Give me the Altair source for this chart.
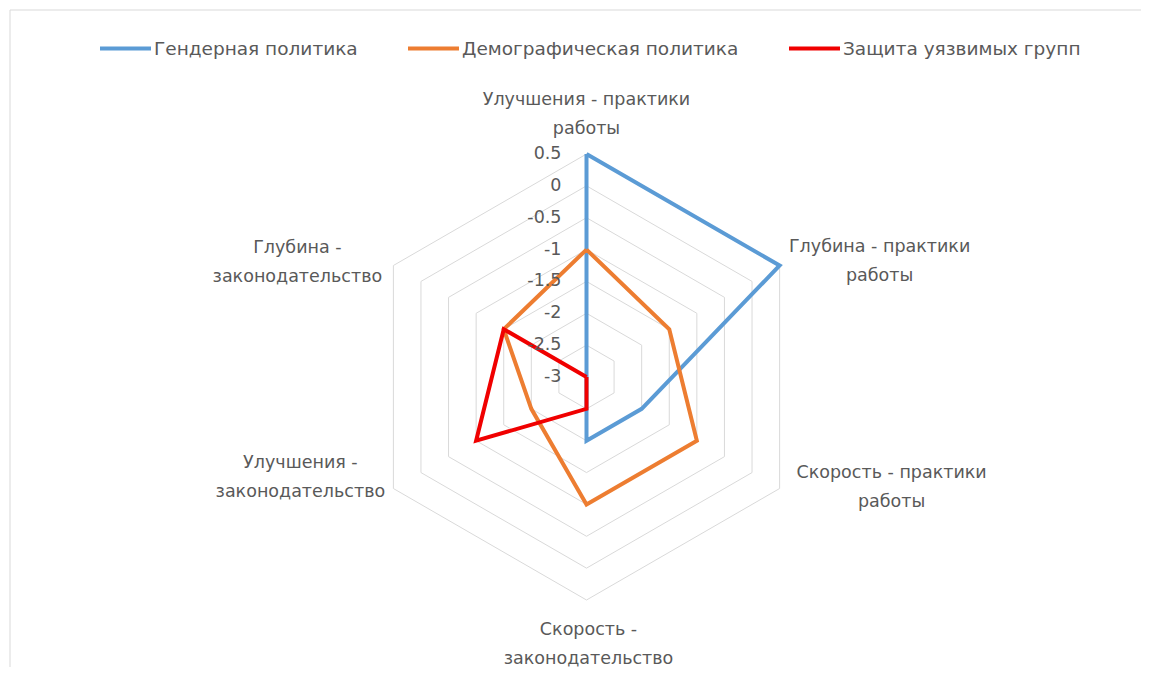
import altair as alt
import pandas as pd

# ---------------- data ----------------
categories = [
    "Улучшения - практики работы",
    "Глубина - практики работы",
    "Скорость - практики работы",
    "Скорость - законодательство",
    "Улучшения - законодательство",
    "Глубина - законодательство",
]
category_labels = [
    "Улучшения - практики\nработы",
    "Глубина - практики\nработы",
    "Скорость - практики\nработы",
    "Скорость -\nзаконодательство",
    "Улучшения -\nзаконодательство",
    "Глубина -\nзаконодательство",
]
series_names = ["Гендерная политика", "Демографическая политика", "Защита уязвимых групп"]
gender = [0.5, 0.5, -2.0, -2.0, -3.0, -3.0]
demographic = [-1.0, -1.5, -1.0, -1.0, -2.0, -1.5]
vulnerable = [-3.0, -3.0, -3.0, -2.5, -1.0, -1.5]
tick_values = [0.5, 0.0, -0.5, -1.0, -1.5, -2.0, -2.5, -3.0]
tick_labels = ["0.5", "0", "-0.5", "-1", "-1.5", "-2", "-2.5", "-3"]
colors = ["#5B9BD5", "#ED7D31", "#F00000"]
widths = [4, 4, 5]

# ---------------- layout ----------------
W, H = 1133, 659
RMIN = -3.0                    # value at the centre
RMAX = 0.5                     # value at the outer ring
PX = 223 / (RMAX - RMIN)       # pixels per unit
CX, CY = 578.5, 369.0          # centre inside plot area
XMIN, XMAX = -CX / PX, (W - CX) / PX
YMIN, YMAX = -(H - CY) / PX, CY / PX
FONT = "DejaVu Sans"
TXT = "#595959"
GRID = "#D9D9D9"
LABEL_SIZE = 17.5
# per-category label offsets (dx, dy) in pixels from the outer vertex
LABEL_OFFSETS = [(0, -54), (100, -19), (112, -16), (2, 30), (-93, -26), (-96, -18)]

n = len(categories)

rows = []
for name, vals in zip(series_names, [gender, demographic, vulnerable]):
    for i in range(n + 1):
        rows.append({"series": name, "idx": i % n, "ord": i, "value": vals[i % n]})
lines_df = pd.DataFrame(rows)

ring_rows = []
for lv in tick_values:
    if lv == RMIN:
        continue
    for i in range(n + 1):
        ring_rows.append({"level": lv, "idx": i % n, "ord": i, "value": lv})
rings_df = pd.DataFrame(ring_rows)

cat_df = pd.DataFrame({"idx": list(range(n)), "label": category_labels})
tick_df = pd.DataFrame({"value": tick_values, "label": tick_labels})

xs = alt.Scale(domain=[XMIN, XMAX], nice=False, zero=False)
ys = alt.Scale(domain=[YMIN, YMAX], nice=False, zero=False)


def polar(chart):
    return chart.transform_calculate(
        ang=f"PI/2 - datum.idx*2*PI/{n}",
        r=f"datum.value - ({RMIN})",
    ).transform_calculate(
        px="datum.r*cos(datum.ang)",
        py="datum.r*sin(datum.ang)",
    )


rings = polar(alt.Chart(rings_df)).mark_line(color=GRID, strokeWidth=1).encode(
    x=alt.X("px:Q", scale=xs, axis=None),
    y=alt.Y("py:Q", scale=ys, axis=None),
    detail="level:N",
    order="ord:Q",
)

series_lines = polar(alt.Chart(lines_df)).mark_line(strokeJoin="miter").encode(
    x=alt.X("px:Q", scale=xs, axis=None),
    y=alt.Y("py:Q", scale=ys, axis=None),
    color=alt.Color(
        "series:N",
        scale=alt.Scale(domain=series_names, range=colors),
        sort=series_names,
        legend=alt.Legend(
            title=None,
            orient="none",
            legendX=90,
            legendY=13,
            direction="horizontal",
            symbolType="stroke",
            symbolSize=2600,
            symbolStrokeWidth=4,
            labelFont=FONT,
            labelFontSize=18.5,
            labelColor=TXT,
            labelLimit=600,
            labelOffset=1,
            columnPadding=42,
            padding=0,
        ),
    ),
    strokeWidth=alt.StrokeWidth(
        "series:N", scale=alt.Scale(domain=series_names, range=widths), legend=None
    ),
    order="ord:Q",
)

ticks = alt.Chart(tick_df).transform_calculate(
    r=f"datum.value - ({RMIN})", px="0"
).mark_text(
    align="right", baseline="middle", dx=-25, font=FONT, fontSize=LABEL_SIZE, color=TXT
).encode(
    x=alt.X("px:Q", scale=xs, axis=None),
    y=alt.Y("r:Q", scale=ys, axis=None),
    text="label:N",
)


def cat_layer(i, dx, dy):
    return polar(
        alt.Chart(cat_df).transform_filter(
            alt.datum.idx == i
        ).transform_calculate(value=f"{RMAX}")
    ).mark_text(
        align="center", baseline="middle", lineBreak="\n", lineHeight=29,
        dx=dx, dy=dy, font=FONT, fontSize=LABEL_SIZE, color=TXT,
    ).encode(
        x=alt.X("px:Q", scale=xs, axis=None),
        y=alt.Y("py:Q", scale=ys, axis=None),
        text="label:N",
    )


cat_layers = [cat_layer(i, dx, dy) for i, (dx, dy) in enumerate(LABEL_OFFSETS)]

border_left = alt.Chart(alt.Data(values=[{}])).mark_rule(color=GRID, strokeWidth=1).encode(
    x=alt.value(2), y=alt.value(2), y2=alt.value(H)
)
border_top = alt.Chart(alt.Data(values=[{}])).mark_rule(color=GRID, strokeWidth=1).encode(
    y=alt.value(2), x=alt.value(2), x2=alt.value(W)
)

chart = alt.layer(
    border_left, border_top, rings, series_lines, ticks, *cat_layers,
).properties(
    width=W, height=H,
    autosize=alt.AutoSizeParams(type="none"),
    padding=0,
    background="white",
).configure_view(stroke=None)

chart.save("out.html", embed_options={"renderer": "svg", "actions": False})
